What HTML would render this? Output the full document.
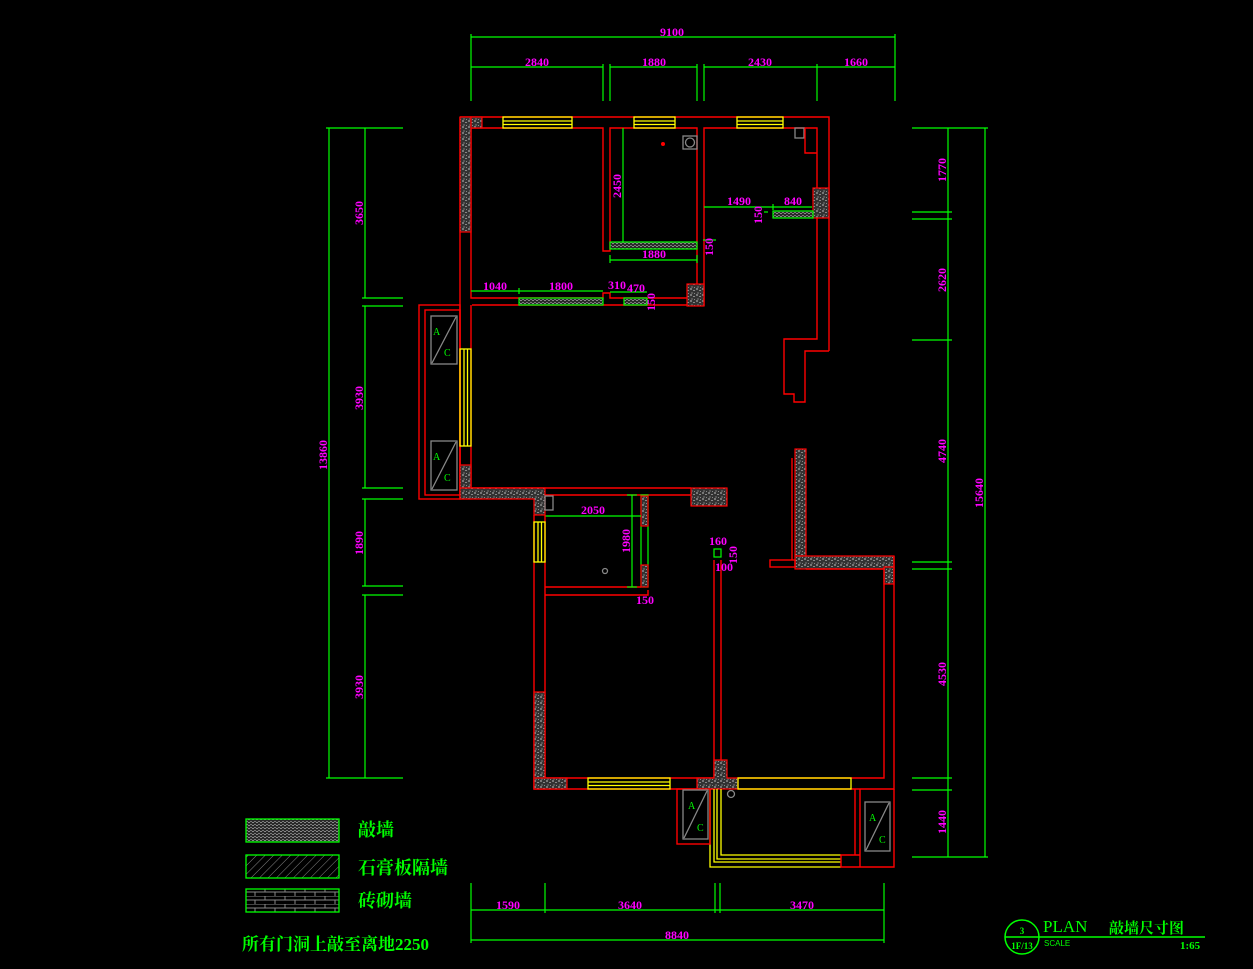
<!DOCTYPE html>
<html><head><meta charset="utf-8"><style>
html,body{margin:0;padding:0;background:#000;}
svg{display:block}
.w{stroke:#ff0000;stroke-width:1.4;fill:none}
.g{stroke:#00ff00;stroke-width:1.2;fill:none}
.y{stroke:#ffff00;stroke-width:1.3;fill:none}
.gr{stroke:#888;stroke-width:1.3;fill:none}
.c{fill:url(#conc);stroke:#ff0000;stroke-width:1.2}
.p{fill:url(#part);stroke:#00ff00;stroke-width:1.2}
.m{fill:#ff00ff;font-family:"Liberation Serif",serif;font-size:12px;font-weight:bold}
.t{fill:#00ff00;font-family:"Liberation Serif","Noto Serif CJK SC",serif}
</style></head><body>
<svg width="1253" height="969" viewBox="0 0 1253 969" xmlns="http://www.w3.org/2000/svg">
<defs>
<pattern id="conc" width="6" height="6" patternUnits="userSpaceOnUse">
<rect width="6" height="6" fill="#333"/><rect x="0" y="0" width="2" height="2" fill="#777"/><rect x="3" y="2" width="2" height="1" fill="#888"/><rect x="1" y="4" width="2" height="2" fill="#555"/><rect x="4" y="5" width="1" height="1" fill="#888"/>
</pattern>
<pattern id="part" width="4" height="3" patternUnits="userSpaceOnUse">
<rect width="4" height="3" fill="#2a2a2a"/><rect x="0" y="0" width="2" height="1" fill="#888"/><rect x="2" y="2" width="2" height="1" fill="#777"/>
</pattern>
<pattern id="diag" width="6" height="6" patternUnits="userSpaceOnUse" patternTransform="rotate(45)">
<rect width="6" height="6" fill="#000"/><line x1="0" y1="0" x2="0" y2="6" stroke="#888" stroke-width="1"/>
</pattern>
<pattern id="brick" width="20" height="8" patternUnits="userSpaceOnUse">
<rect width="20" height="8" fill="#000"/><path d="M0 0H20M0 4H20M5 0V4M15 4V8" stroke="#888" stroke-width="1" fill="none"/>
</pattern>
</defs>

<!-- TOP DIMENSIONS -->
<g class="g">
<line x1="471" y1="37" x2="895" y2="37"/>
<line x1="471" y1="67" x2="603" y2="67"/><line x1="610" y1="67" x2="697" y2="67"/><line x1="704" y1="67" x2="895" y2="67"/>
<line x1="471" y1="34" x2="471" y2="101"/><line x1="603" y1="64" x2="603" y2="101"/><line x1="610" y1="64" x2="610" y2="101"/>
<line x1="697" y1="64" x2="697" y2="101"/><line x1="704" y1="64" x2="704" y2="101"/><line x1="817" y1="64" x2="817" y2="101"/><line x1="895" y1="34" x2="895" y2="101"/>
</g>
<text class="m" x="672" y="36" text-anchor="middle">9100</text>
<text class="m" x="537" y="66" text-anchor="middle">2840</text>
<text class="m" x="654" y="66" text-anchor="middle">1880</text>
<text class="m" x="760" y="66" text-anchor="middle">2430</text>
<text class="m" x="856" y="66" text-anchor="middle">1660</text>

<!-- LEFT DIMENSIONS -->
<g class="g">
<line x1="329" y1="128" x2="329" y2="778"/><line x1="365" y1="128" x2="365" y2="298"/><line x1="365" y1="306" x2="365" y2="488"/><line x1="365" y1="499" x2="365" y2="586"/><line x1="365" y1="595" x2="365" y2="778"/>
<line x1="326" y1="128" x2="403" y2="128"/><line x1="362" y1="298" x2="403" y2="298"/><line x1="362" y1="306" x2="403" y2="306"/><line x1="362" y1="488" x2="403" y2="488"/><line x1="362" y1="499" x2="403" y2="499"/><line x1="362" y1="586" x2="403" y2="586"/><line x1="362" y1="595" x2="403" y2="595"/><line x1="326" y1="778" x2="403" y2="778"/>
</g>
<g class="m">
<text transform="translate(363,213) rotate(-90)" text-anchor="middle">3650</text>
<text transform="translate(363,398) rotate(-90)" text-anchor="middle">3930</text>
<text transform="translate(363,543) rotate(-90)" text-anchor="middle">1890</text>
<text transform="translate(363,687) rotate(-90)" text-anchor="middle">3930</text>
<text transform="translate(327,455) rotate(-90)" text-anchor="middle">13860</text>
</g>

<!-- RIGHT DIMENSIONS -->
<g class="g">
<line x1="948" y1="128" x2="948" y2="857"/><line x1="985" y1="128" x2="985" y2="857"/>
<line x1="912" y1="128" x2="988" y2="128"/><line x1="912" y1="212" x2="952" y2="212"/><line x1="912" y1="219" x2="952" y2="219"/><line x1="912" y1="340" x2="952" y2="340"/><line x1="912" y1="562" x2="952" y2="562"/><line x1="912" y1="569" x2="952" y2="569"/><line x1="912" y1="778" x2="952" y2="778"/><line x1="912" y1="790" x2="952" y2="790"/><line x1="912" y1="857" x2="988" y2="857"/>
</g>
<g class="m">
<text transform="translate(946,170) rotate(-90)" text-anchor="middle">1770</text>
<text transform="translate(946,280) rotate(-90)" text-anchor="middle">2620</text>
<text transform="translate(946,451) rotate(-90)" text-anchor="middle">4740</text>
<text transform="translate(946,674) rotate(-90)" text-anchor="middle">4530</text>
<text transform="translate(946,822) rotate(-90)" text-anchor="middle">1440</text>
<text transform="translate(983,493) rotate(-90)" text-anchor="middle">15640</text>
</g>

<!-- BOTTOM DIMENSIONS -->
<g class="g">
<line x1="471" y1="910" x2="884" y2="910"/><line x1="471" y1="940" x2="884" y2="940"/>
<line x1="471" y1="883" x2="471" y2="943"/><line x1="545" y1="883" x2="545" y2="913"/><line x1="715" y1="883" x2="715" y2="913"/><line x1="720" y1="883" x2="720" y2="913"/><line x1="884" y1="883" x2="884" y2="943"/>
</g>
<text class="m" x="508" y="909" text-anchor="middle">1590</text>
<text class="m" x="630" y="909" text-anchor="middle">3640</text>
<text class="m" x="802" y="909" text-anchor="middle">3470</text>
<text class="m" x="677" y="939" text-anchor="middle">8840</text>

<!-- UPPER PART WALLS -->
<path class="w" d="M460 117H829V351M471 128H603V251H610V128H697V306M704 306V128H817V339H784V394H794V402H805V351H829"/>
<path class="w" d="M460 117V488H545M471 128V298H603V293H610V298H697M472 305H687M471 305V489"/>
<rect class="c" x="460" y="117" width="11" height="115"/><rect class="c" x="471" y="117" width="11" height="11"/>
<rect class="c" x="813" y="188" width="16" height="30"/>
<rect class="c" x="687" y="284" width="17" height="22"/>
<rect class="y" x="503" y="117" width="69" height="11"/><line class="y" x1="503" y1="121" x2="572" y2="121"/><line class="y" x1="503" y1="124.5" x2="572" y2="124.5"/>
<rect class="y" x="634" y="117" width="41" height="11"/><line class="y" x1="634" y1="121" x2="675" y2="121"/><line class="y" x1="634" y1="124.5" x2="675" y2="124.5"/>
<rect class="y" x="737" y="117" width="46" height="11"/><line class="y" x1="737" y1="121" x2="783" y2="121"/><line class="y" x1="737" y1="124.5" x2="783" y2="124.5"/>
<rect class="gr" x="683" y="136" width="14" height="13"/><circle class="gr" cx="690" cy="142.5" r="4.5"/>
<rect class="gr" x="795" y="128" width="9" height="10"/><path class="w" d="M805 128V153H817"/>
<circle cx="663" cy="144" r="2" fill="#ff0000"/>
<rect class="p" x="610" y="242" width="87" height="7"/>
<rect class="p" x="773" y="211" width="40" height="7"/>
<rect class="p" x="519" y="298" width="84" height="7"/>
<rect class="p" x="624" y="298" width="23" height="7"/>
<g class="g">
<line x1="623" y1="128" x2="623" y2="242"/><line x1="610" y1="260" x2="697" y2="260"/><line x1="610" y1="255" x2="610" y2="263"/><line x1="697" y1="255" x2="697" y2="263"/>
<line x1="704" y1="207" x2="812" y2="207"/><line x1="773" y1="204" x2="773" y2="210"/>
<line x1="471" y1="291" x2="603" y2="291"/><line x1="519" y1="288" x2="519" y2="294"/><line x1="610" y1="292" x2="647" y2="292"/>
<line x1="703" y1="240" x2="716" y2="240"/><line x1="764" y1="212" x2="768" y2="212"/>
</g>
<text class="m" transform="translate(621,186) rotate(-90)" text-anchor="middle">2450</text>
<text class="m" x="654" y="258" text-anchor="middle">1880</text>
<text class="m" x="739" y="205" text-anchor="middle">1490</text>
<text class="m" x="793" y="205" text-anchor="middle">840</text>
<text class="m" transform="translate(762,215) rotate(-90)" text-anchor="middle" font-size="9">150</text>
<text class="m" transform="translate(713,247) rotate(-90)" text-anchor="middle" font-size="9">150</text>
<text class="m" x="495" y="290" text-anchor="middle" font-size="7">1040</text>
<text class="m" x="561" y="290" text-anchor="middle" font-size="7">1800</text>
<text class="m" x="617" y="289" text-anchor="middle">310</text>
<text class="m" x="636" y="292" text-anchor="middle">470</text>
<text class="m" transform="translate(655,302) rotate(-90)" text-anchor="middle" font-size="9">150</text>

<!-- left AC bay -->
<rect class="w" x="419" y="305" width="41" height="194"/>
<rect class="w" x="425" y="310" width="35" height="185"/>
<rect class="y" x="460" y="349" width="11" height="97"/><line class="y" x1="464" y1="349" x2="464" y2="446"/><line class="y" x1="467.5" y1="349" x2="467.5" y2="446"/>
<rect class="c" x="460" y="465" width="11" height="34"/>
<g><rect class="gr" x="431" y="316" width="26" height="48"/><line class="gr" x1="432" y1="363" x2="456" y2="317" stroke-width="1"/><text class="t" x="433" y="335" font-size="10">A</text><text class="t" x="444" y="356" font-size="10">C</text></g>
<g><rect class="gr" x="431" y="441" width="26" height="49"/><line class="gr" x1="432" y1="489" x2="456" y2="442" stroke-width="1"/><text class="t" x="433" y="460" font-size="10">A</text><text class="t" x="444" y="481" font-size="10">C</text></g>

<!-- middle band -->
<path class="c" d="M460 488H545V515H534V499H460Z"/>
<path class="w" d="M545 488H691M545 495H691"/>
<rect class="c" x="691" y="488" width="36" height="18"/>
<rect class="gr" x="545" y="496" width="8" height="14" stroke-width="1"/>
<rect class="g" x="641" y="495" width="7" height="92"/>
<rect class="c" x="641" y="496" width="7" height="30" stroke="#00ff00"/><rect class="c" x="641" y="565" width="7" height="22" stroke="#00ff00"/>
<path class="w" d="M545 587H641M545 595H648V590"/>
<circle class="gr" cx="605" cy="571" r="2.5" stroke-width="1"/>
<g class="g"><line x1="545" y1="516" x2="641" y2="516"/><line x1="632" y1="495" x2="632" y2="587"/><line x1="627" y1="495" x2="637" y2="495"/><line x1="627" y1="587" x2="637" y2="587"/></g>
<text class="m" x="593" y="514" text-anchor="middle">2050</text>
<text class="m" transform="translate(630,541) rotate(-90)" text-anchor="middle">1980</text>
<text class="m" x="645" y="604" text-anchor="middle">150</text>

<!-- lower left room -->
<path class="w" d="M534 515V789H714M545 515V778H714M714 560V778M721 560V760"/>
<rect class="y" x="534" y="522" width="11" height="40"/><line class="y" x1="538" y1="522" x2="538" y2="562"/><line class="y" x1="541.5" y1="522" x2="541.5" y2="562"/>
<rect class="c" x="534" y="692" width="11" height="97"/><rect class="c" x="534" y="778" width="33" height="11"/>
<rect class="y" x="588" y="778" width="82" height="11"/><line class="y" x1="588" y1="782" x2="670" y2="782"/><line class="y" x1="588" y1="785.5" x2="670" y2="785.5"/>
<path class="c" d="M714 760H727V778H738V789H697V778H714Z"/>
<rect class="g" x="714" y="549" width="7" height="8"/>
<text class="m" x="718" y="545" text-anchor="middle" font-size="9">160</text>
<text class="m" x="724" y="571" text-anchor="middle" font-size="9">100</text>
<text class="m" transform="translate(737,555) rotate(-90)" text-anchor="middle" font-size="9">150</text>

<!-- lower right room -->
<rect class="c" x="795" y="449" width="11" height="107"/>
<rect class="c" x="795" y="556" width="99" height="13"/>
<rect class="c" x="884" y="567" width="10" height="17"/>
<path class="w" d="M792 458V560M806 569H884V778H738M894 556V789H738"/>
<rect class="w" x="770" y="560" width="25" height="7"/>
<rect class="y" x="738" y="778" width="113" height="11"/>
<circle class="gr" cx="731" cy="794" r="3.5" stroke-width="1"/>

<!-- balcony -->
<path class="y" d="M710 789V867H841M714 789V862H841M717 789V859H841M721 789V855H841"/>
<rect class="w" x="677" y="789" width="33" height="55"/>
<g><rect class="gr" x="683" y="790" width="25" height="49"/><line class="gr" x1="684" y1="838" x2="707" y2="791" stroke-width="1"/><text class="t" x="688" y="809" font-size="10">A</text><text class="t" x="697" y="831" font-size="10">C</text></g>
<path class="w" d="M855 789V855M860 789V867H894V789M841 855H860V867H841Z"/>
<g><rect class="gr" x="865" y="802" width="25" height="49"/><line class="gr" x1="866" y1="850" x2="889" y2="803" stroke-width="1"/><text class="t" x="869" y="821" font-size="10">A</text><text class="t" x="879" y="843" font-size="10">C</text></g>

<!-- LEGEND -->
<rect x="246" y="819" width="93" height="23" fill="url(#part)" stroke="#00ff00" stroke-width="1.3"/>
<rect x="246" y="855" width="93" height="23" fill="url(#diag)" stroke="#00ff00" stroke-width="1.3"/>
<rect x="246" y="889" width="93" height="23" fill="url(#brick)" stroke="#00ff00" stroke-width="1.3"/>
<text class="t" x="358" y="836" font-size="18" font-weight="bold">敲墙</text>
<text class="t" x="358" y="874" font-size="18" font-weight="bold">石膏板隔墙</text>
<text class="t" x="358" y="907" font-size="18" font-weight="bold">砖砌墙</text>
<text class="t" x="242" y="950" font-size="17" font-weight="bold">所有门洞上敲至离地2250</text>

<!-- TITLE -->
<circle cx="1022" cy="937" r="17" stroke="#00ff00" stroke-width="1.5" fill="none"/>
<line x1="1005" y1="937" x2="1205" y2="937" stroke="#00ff00" stroke-width="1.5"/>
<text class="t" x="1022" y="934" font-size="9" text-anchor="middle" font-weight="bold">3</text>
<text class="t" x="1022" y="949" font-size="9" text-anchor="middle" font-weight="bold">1F/13</text>
<text class="t" x="1043" y="932" font-size="17">PLAN</text>
<text class="t" x="1109" y="933" font-size="15" font-weight="bold">敲墙尺寸图</text>
<text x="1044" y="946" font-size="8" fill="#00ff00" font-family="Liberation Sans,sans-serif">SCALE</text>
<text class="t" x="1180" y="949" font-size="11" font-weight="bold">1:65</text>
</svg>
</body></html>
